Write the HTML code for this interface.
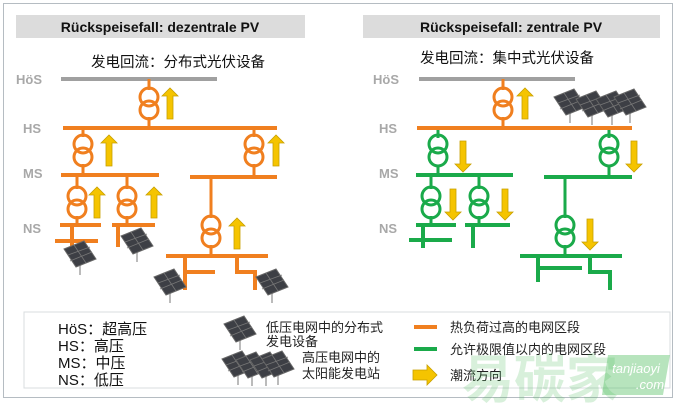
<!DOCTYPE html>
<html><head><meta charset="utf-8"><style>
html,body{margin:0;padding:0;background:#fff;}
svg{display:block;}
text{font-family:"Liberation Sans","Noto Sans CJK SC",sans-serif;}
</style></head><body>
<svg width="678" height="405" viewBox="0 0 678 405" xmlns="http://www.w3.org/2000/svg">
<defs>
<g id="pv">
  <line x1="0" y1="8" x2="0" y2="20" stroke="#bbb" stroke-width="2"/>
  <polygon points="-16,-6 4,-14 16,4 -4,12" fill="#3d3f45" stroke="#666" stroke-width="1"/>
  <path d="M-6,-10 L6,8 M-12,0 L10,-8 M-10,6 L12,-3" stroke="#777" stroke-width="0.8" fill="none"/>
</g>
<polygon id="up" points="0,0 8,-8 16,0 11,0 11,23 5,23 5,0" fill="#f5c400" stroke="#c8a000" stroke-width="0.8"/>
<polygon id="dn" points="0,0 8,8 16,0 11,0 11,-23 5,-23 5,0" fill="#f5c400" stroke="#c8a000" stroke-width="0.8"/>
</defs>
<rect x="3.5" y="3.5" width="669" height="394" fill="#fff" stroke="#b5bcc2" stroke-width="1"/>

<!-- LEFT PANEL -->
<rect x="16" y="15" width="289" height="23" fill="#dcdcdc"/>
<text x="160" y="32" font-size="14" font-weight="bold" text-anchor="middle" fill="#111">Rückspeisefall: dezentrale PV</text>
<text x="178" y="67" font-size="14.5" text-anchor="middle" fill="#111">发电回流：分布式光伏设备</text>
<g font-size="13" font-weight="bold" fill="#a8a8a8">
<text x="16" y="84">HöS</text><text x="23" y="133">HS</text><text x="23" y="178">MS</text><text x="23" y="233">NS</text>
</g>
<line x1="61" y1="79" x2="217" y2="79" stroke="#a0a0a0" stroke-width="4"/>
<g stroke="#f07f1f" stroke-width="3" fill="none">
  <line x1="149" y1="79" x2="149" y2="90"/><circle cx="149" cy="97" r="9"/><circle cx="149" cy="110" r="9"/><line x1="149" y1="117" x2="149" y2="128"/>
  <line x1="63" y1="128" x2="277" y2="128" stroke-width="4"/>
  <line x1="83" y1="128" x2="83" y2="137"/><circle cx="83" cy="144" r="9"/><circle cx="83" cy="157" r="9"/><line x1="83" y1="164" x2="83" y2="175"/>
  <line x1="254" y1="128" x2="254" y2="137"/><circle cx="254" cy="144" r="9"/><circle cx="254" cy="157" r="9"/><line x1="254" y1="164" x2="254" y2="177"/>
  <line x1="61" y1="175" x2="159" y2="175" stroke-width="4"/>
  <line x1="190" y1="177" x2="277" y2="177" stroke-width="4"/>
  <line x1="77" y1="175" x2="77" y2="189"/><circle cx="77" cy="196" r="9"/><circle cx="77" cy="209" r="9"/><line x1="77" y1="216" x2="77" y2="225"/>
  <line x1="127" y1="175" x2="127" y2="189"/><circle cx="127" cy="196" r="9"/><circle cx="127" cy="209" r="9"/><line x1="127" y1="216" x2="127" y2="225"/>
  <line x1="60" y1="225" x2="101" y2="225" stroke-width="4"/><line x1="55" y1="241" x2="98" y2="241" stroke-width="4"/><line x1="72" y1="225" x2="72" y2="250" stroke-width="4"/>
  <line x1="112" y1="225" x2="155" y2="225" stroke-width="4"/><line x1="118" y1="225" x2="118" y2="247" stroke-width="4"/>
  <line x1="211" y1="177" x2="211" y2="218"/><circle cx="211" cy="225" r="9"/><circle cx="211" cy="238" r="9"/><line x1="211" y1="245" x2="211" y2="256"/>
  <line x1="166" y1="256" x2="268" y2="256" stroke-width="4"/>
  <path d="M185,256 V290 M185,272 H215 M237,256 V272 H255 V290" stroke-width="4"/>
</g>
<use href="#up" x="162" y="96"/><use href="#up" x="101" y="143"/><use href="#up" x="268" y="143"/>
<use href="#up" x="89" y="195"/><use href="#up" x="146" y="195"/><use href="#up" x="229" y="226"/>
<use href="#pv" x="80" y="255"/><use href="#pv" x="137" y="242"/><use href="#pv" x="170" y="283"/><use href="#pv" x="272" y="283"/>

<!-- RIGHT PANEL -->
<rect x="363" y="15" width="297" height="23" fill="#dcdcdc"/>
<text x="511" y="32" font-size="14" font-weight="bold" text-anchor="middle" fill="#111">Rückspeisefall: zentrale PV</text>
<text x="507" y="63" font-size="14.5" text-anchor="middle" fill="#111">发电回流：集中式光伏设备</text>
<g font-size="13" font-weight="bold" fill="#a8a8a8">
<text x="373" y="84">HöS</text><text x="379" y="133">HS</text><text x="379" y="178">MS</text><text x="379" y="233">NS</text>
</g>
<line x1="419" y1="79" x2="575" y2="79" stroke="#a0a0a0" stroke-width="4"/>
<g stroke="#f07f1f" stroke-width="3" fill="none">
  <line x1="503" y1="79" x2="503" y2="90"/><circle cx="503" cy="97" r="9"/><circle cx="503" cy="110" r="9"/><line x1="503" y1="117" x2="503" y2="128"/>
  <line x1="417" y1="128" x2="632" y2="128" stroke-width="4"/>
</g>
<use href="#up" x="517" y="96"/>
<use href="#pv" x="570" y="103"/><use href="#pv" x="592" y="105"/><use href="#pv" x="612" y="105"/><use href="#pv" x="630" y="103"/>
<g stroke="#1aaa4a" stroke-width="3" fill="none">
  <line x1="438" y1="130" x2="438" y2="138"/><circle cx="438" cy="144" r="9"/><circle cx="438" cy="157" r="9"/><line x1="438" y1="165" x2="438" y2="175"/>
  <line x1="609" y1="130" x2="609" y2="138"/><circle cx="609" cy="144" r="9"/><circle cx="609" cy="157" r="9"/><line x1="609" y1="165" x2="609" y2="177"/>
  <line x1="416" y1="175" x2="513" y2="175" stroke-width="4"/>
  <line x1="544" y1="177" x2="632" y2="177" stroke-width="4"/>
  <line x1="431" y1="175" x2="431" y2="189"/><circle cx="431" cy="196" r="9"/><circle cx="431" cy="209" r="9"/><line x1="431" y1="216" x2="431" y2="225"/>
  <line x1="479" y1="175" x2="479" y2="189"/><circle cx="479" cy="196" r="9"/><circle cx="479" cy="209" r="9"/><line x1="479" y1="216" x2="479" y2="225"/>
  <line x1="416" y1="225" x2="456" y2="225" stroke-width="4"/><line x1="409" y1="240" x2="452" y2="240" stroke-width="4"/><line x1="423" y1="225" x2="423" y2="248" stroke-width="4"/>
  <line x1="465" y1="225" x2="510" y2="225" stroke-width="4"/><line x1="473" y1="225" x2="473" y2="248" stroke-width="4"/>
  <line x1="565" y1="177" x2="565" y2="218"/><circle cx="565" cy="225" r="9"/><circle cx="565" cy="238" r="9"/><line x1="565" y1="245" x2="565" y2="256"/>
  <line x1="520" y1="256" x2="622" y2="256" stroke-width="4"/>
  <path d="M538,256 V282 M538,268 H582 M590,256 V272 H610 V290" stroke-width="4"/>
</g>
<use href="#dn" x="455" y="164"/><use href="#dn" x="626" y="164"/>
<use href="#dn" x="445" y="212"/><use href="#dn" x="497" y="212"/><use href="#dn" x="582" y="242"/>

<!-- LEGEND -->
<rect x="24" y="312" width="646" height="76" fill="#fff" stroke="#d8dcdf" stroke-width="1"/>
<g font-size="15" fill="#111">
<text x="58" y="334">HöS：超高压</text><text x="58" y="351">HS：高压</text><text x="58" y="368">MS：中压</text><text x="58" y="385">NS：低压</text>
</g>
<use href="#pv" x="240" y="330"/>
<use href="#pv" x="238" y="365"/><use href="#pv" x="252" y="366"/><use href="#pv" x="266" y="366"/><use href="#pv" x="278" y="365"/>
<g font-size="13" fill="#222">
<text x="266" y="332">低压电网中的分布式</text><text x="266" y="346">发电设备</text>
<text x="302" y="362">高压电网中的</text><text x="302" y="378">太阳能发电站</text>
<text x="450" y="332">热负荷过高的电网区段</text>
<text x="450" y="354">允许极限值以内的电网区段</text>
<text x="450" y="380">潮流方向</text>
</g>
<line x1="414" y1="327" x2="437" y2="327" stroke="#f07f1f" stroke-width="4"/>
<line x1="414" y1="349" x2="437" y2="349" stroke="#1aaa4a" stroke-width="4"/>
<polygon points="413,370 427,370 427,365 437,375 427,385 427,380 413,380" fill="#f5c400" stroke="#c8a000" stroke-width="0.8"/>

<!-- watermark -->
<text x="462" y="398" font-size="52" font-weight="bold" fill="#4cbb5a" fill-opacity="0.22" font-family="'Noto Sans CJK SC',sans-serif">易碳家</text>
<polygon points="608,355 670,355 663,395 602,395" fill="#4cbb5a" fill-opacity="0.4"/>
<text x="636" y="373" font-size="13" fill="#fff" text-anchor="middle" font-style="italic">tanjiaoyi</text>
<text x="650" y="389" font-size="13" fill="#fff" text-anchor="middle" font-style="italic">.com</text>
</svg>
</body></html>
